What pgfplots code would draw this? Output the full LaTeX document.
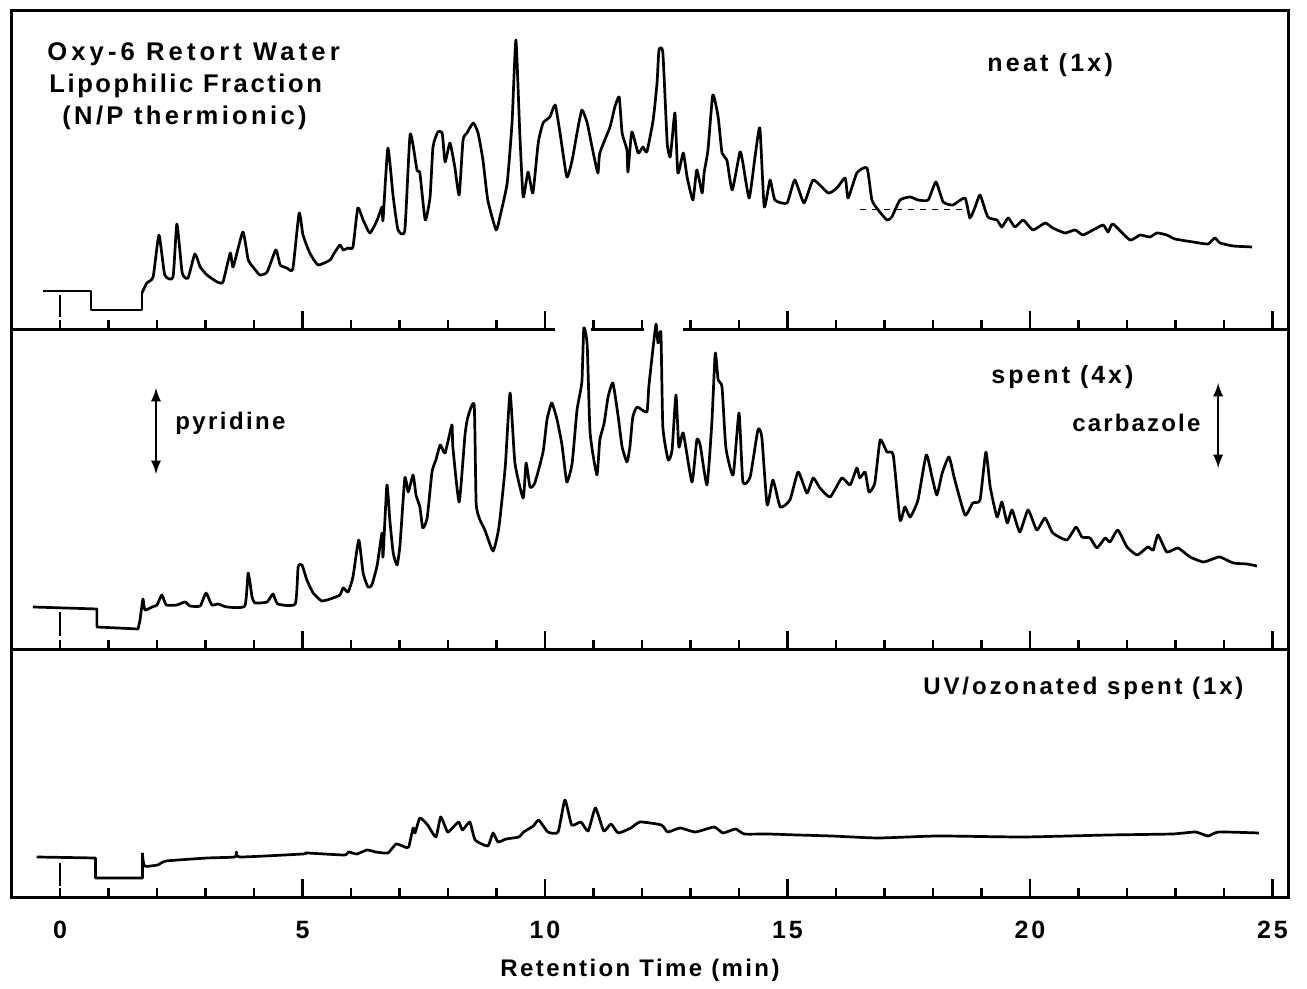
\documentclass[border=0pt]{standalone}
\usepackage{pgfplots}
\pgfplotsset{compat=1.18}
\usepackage{fontspec}
\setmainfont{Liberation Sans}[LetterSpace=11]
\begin{document}
\begin{tikzpicture}
\path[use as bounding box] (0,0) rectangle (653.5pt,494.5pt);
\pgfplotsset{
  panel/.style={
    scale only axis, width=638pt, xmin=-0.99, xmax=25.32, ymin=0,
    anchor=south west,
    axis line style={-, line width=1.5pt},
    xtick={5,10,15,20,25}, minor xtick={0,...,24},
    ytick=\empty, xtick pos=bottom, tick align=inside,
    major tick length=9.5pt, minor tick length=5pt,
    every tick/.append style={black, line width=1.2pt},
    xticklabels={},
  },
  trace/.style={black, line width=1.35pt, line join=round, no marks},
  strace/.style={black, line width=1.35pt, line join=round, no marks, smooth, tension=0.3},
}
% ---------------- panel 1: neat (1x)
\begin{axis}[panel, at={(6pt,329.5pt)}, height=159.5pt, ymax=319]
\addplot[trace] table {
-0.35 39
0.64 39
0.64 20
1.69 20
1.69 37
};
\addplot[strace] table {
1.69 37
1.79 47
1.92 53
2.04 95
2.16 55
2.33 53
2.41 106
2.52 57
2.64 52
2.78 76
2.89 63
3.03 55
3.24 48
3.36 48
3.51 77
3.57 63
3.77 98
3.88 70
3.98 63
4.12 55
4.27 58
4.45 80
4.54 65
4.68 62
4.80 61
4.93 117
5.01 95
5.15 77
5.32 65
5.57 70
5.63 75
5.77 85
5.84 80
5.94 82
6.04 83
6.14 122
6.25 110
6.39 97
6.54 110
6.64 123
6.66 110
6.76 182
6.87 133
6.97 100
7.11 100
7.22 196
7.36 160
7.42 157
7.53 110
7.63 133
7.69 183
7.79 198
7.88 197
7.94 168
8.04 187
8.14 163
8.23 135
8.31 190
8.39 197
8.52 207
8.62 197
8.72 170
8.82 130
8.99 100
9.07 113
9.22 147
9.32 207
9.40 290
9.48 197
9.55 133
9.65 158
9.75 137
9.86 187
9.96 207
10.10 213
10.21 225
10.31 197
10.45 153
10.56 170
10.66 197
10.76 220
10.87 207
10.97 183
11.09 157
11.13 177
11.34 203
11.44 223
11.53 233
11.59 197
11.69 180
11.71 158
11.79 198
11.92 177
12.02 183
12.10 178
12.23 210
12.31 247
12.35 280
12.43 277
12.52 187
12.58 173
12.62 190
12.68 217
12.74 157
12.85 177
12.93 153
13.05 130
13.13 160
13.24 137
13.28 157
13.36 180
13.46 235
13.57 213
13.65 177
13.75 170
13.86 140
14.02 178
14.08 167
14.21 132
14.33 173
14.43 202
14.52 123
14.64 150
14.74 130
14.99 127
15.15 150
15.34 127
15.53 150
15.84 137
16.02 142
16.19 152
16.25 132
16.43 157
16.64 162
16.74 130
16.87 120
17.05 110
17.15 113
17.32 130
17.53 133
17.69 130
17.90 130
18.06 148
18.21 128
18.41 125
18.66 132
18.76 112
18.87 123
18.97 135
19.13 113
19.32 110
19.42 103
19.55 112
19.69 103
19.86 110
20.06 100
20.31 107
20.47 102
20.72 97
20.93 100
21.09 95
21.30 100
21.51 105
21.61 98
21.71 106
22.06 90
22.27 95
22.47 93
22.62 97
22.82 95
22.99 91
23.36 88
23.67 86
23.81 92
23.92 87
24.19 84
24.58 83
};
\addplot[black, line width=0.5pt, dashed] coordinates {(16.49,120) (18.62,120)};
\addplot[black, line width=1pt] coordinates {(0,13) (0,35)};
\end{axis}
% gaps in the separator line
\fill[white] (277.5pt,327.4pt) rectangle (295.7pt,331.6pt);
\fill[white] (322.2pt,327.4pt) rectangle (341.5pt,331.6pt);
% ---------------- panel 2: spent (4x)
\begin{axis}[panel, at={(6pt,169.5pt)}, height=160pt, ymax=320, clip=false,
  axis x line*=bottom, axis y line*=box]
\addplot[trace] table {
-0.56 43
0.76 41
0.76 23
1.61 21
1.65 30
};
\addplot[strace] table {
1.65 30
1.71 51
1.75 40
1.90 43
2.00 45
2.10 55
2.19 45
2.41 45
2.58 48
2.68 44
2.89 44
3.01 57
3.13 45
3.26 46
3.44 43
3.81 44
3.88 77
3.96 53
4.02 47
4.27 48
4.39 56
4.49 46
4.85 46
4.91 83
4.99 85
5.09 70
5.22 57
5.40 49
5.63 52
5.77 55
5.84 62
5.94 58
6.04 73
6.16 110
6.25 77
6.35 63
6.43 65
6.54 85
6.64 117
6.66 93
6.74 165
6.80 130
6.87 97
6.95 85
7.01 105
7.11 172
7.18 158
7.28 175
7.34 155
7.42 143
7.48 122
7.57 132
7.67 178
7.75 190
7.84 205
7.94 197
8.08 225
8.10 203
8.23 148
8.35 215
8.41 233
8.54 245
8.58 147
8.66 130
8.76 120
8.93 99
9.05 123
9.18 183
9.28 257
9.38 187
9.55 152
9.61 187
9.69 163
9.79 167
9.96 198
10.04 230
10.14 247
10.25 230
10.35 205
10.45 168
10.56 187
10.66 240
10.76 268
10.80 322
10.87 305
10.93 217
11.07 175
11.13 210
11.22 227
11.30 253
11.40 267
11.51 233
11.59 203
11.69 188
11.75 203
11.81 233
11.90 243
12.10 238
12.14 263
12.23 303
12.29 326
12.33 307
12.39 317
12.43 223
12.54 190
12.62 200
12.70 255
12.76 203
12.85 217
13.03 168
13.13 210
13.20 205
13.34 165
13.44 227
13.51 297
13.57 270
13.65 263
13.73 202
13.88 175
14.00 237
14.08 168
14.23 173
14.39 220
14.47 213
14.58 145
14.70 170
14.85 143
15.05 150
15.22 178
15.40 157
15.53 172
15.67 162
15.88 153
16.12 172
16.29 165
16.43 182
16.49 172
16.60 178
16.68 158
16.80 167
16.91 210
17.05 198
17.18 195
17.32 130
17.42 143
17.53 133
17.69 150
17.86 195
17.98 173
18.08 155
18.19 177
18.33 193
18.45 170
18.66 135
18.82 147
18.97 150
19.09 198
19.18 163
19.32 133
19.42 148
19.53 127
19.63 140
19.79 118
19.96 140
20.14 120
20.31 132
20.47 117
20.76 110
20.95 123
21.07 113
21.24 112
21.38 102
21.55 112
21.65 108
21.81 120
22.00 103
22.21 95
22.43 103
22.54 100
22.64 115
22.82 98
23.05 102
23.30 93
23.57 88
23.77 91
23.92 93
24.19 87
24.47 86
24.68 84
};
\addplot[black, line width=1pt] coordinates {(0,14) (0,38)};
\draw[<->, >=latex, line width=1.3pt] (axis cs:1.98,176) -- (axis cs:1.98,262);
\draw[<->, >=latex, line width=1.3pt] (axis cs:23.88,182) -- (axis cs:23.88,267);
\end{axis}
% ---------------- panel 3: UV/ozonated spent (1x)
\begin{axis}[panel, at={(6pt,45.5pt)}, height=124pt, ymax=248,
  xticklabels={5,10,15,20,25},
  extra x ticks={0}, extra x tick labels={0},
  extra x tick style={major tick length=0pt},
  /pgf/number format/assume math mode=true,
  xticklabel style={font=\bfseries\fontsize{12.5}{14}\selectfont, yshift=-8pt}]
\addplot[trace] table {
-0.48 41
0.73 40
0.73 20
1.70 20
1.70 45
};
\addplot[strace] table {
1.70 45
1.74 32
2.01 33
2.19 37
3.04 40
3.60 41
3.64 46
3.71 41
5.01 44
5.09 45
5.86 43
5.95 46
6.12 44
6.33 48
6.51 46
6.76 45
6.93 54
7.11 51
7.19 51
7.28 70
7.32 65
7.42 80
7.58 73
7.75 61
7.85 81
7.99 66
8.09 70
8.22 76
8.30 68
8.45 76
8.56 58
8.82 52
8.93 65
9.03 56
9.20 59
9.46 61
9.56 66
9.76 72
9.87 78
10.06 66
10.27 66
10.41 98
10.55 73
10.74 76
10.89 67
11.04 90
11.21 67
11.36 74
11.51 65
11.77 70
11.96 76
12.40 73
12.53 66
12.79 70
13.10 66
13.49 71
13.67 65
13.93 69
14.11 64
14.59 64
15.20 63
15.91 62
16.87 60
18.10 62
19.86 61
21.61 63
22.93 64
23.41 66
23.67 62
23.89 66
24.72 65
};
\addplot[black, line width=1pt] coordinates {(0,12) (0,35)};
\end{axis}
% ---------------- texts
\begin{scope}[every node/.style={inner sep=0pt, font=\bfseries\fontsize{12}{14}\selectfont}]
\node[anchor=west, font=\bfseries\fontsize{12.8}{15}\selectfont\addfontfeature{LetterSpace=16}] at (23.5pt,467.5pt) {Oxy-6 Retort Water};
\node[anchor=west, font=\bfseries\fontsize{12.8}{15}\selectfont\addfontfeature{LetterSpace=10}] at (24.5pt,451.5pt) {Lipophilic Fraction};
\node[anchor=west, font=\bfseries\fontsize{12.8}{15}\selectfont\addfontfeature{LetterSpace=13}] at (31pt,435.5pt) {(N/P thermionic)};
\node[anchor=west, font=\bfseries\fontsize{12.5}{14}\selectfont\addfontfeature{LetterSpace=13}] at (493.5pt,462pt) {neat (1x)};
\node[anchor=west, font=\bfseries\fontsize{12.5}{14}\selectfont\addfontfeature{LetterSpace=12}] at (495.5pt,306pt) {spent (4x)};
\node[anchor=west, font=\bfseries\fontsize{12}{14}\selectfont\addfontfeature{LetterSpace=10}] at (87.5pt,283pt) {pyridine};
\node[anchor=west, font=\bfseries\fontsize{12}{14}\selectfont\addfontfeature{LetterSpace=9}] at (536pt,283pt) {carbazole};
\node[anchor=west, font=\bfseries\fontsize{12}{14}\selectfont\addfontfeature{LetterSpace=12}] at (461.5pt,150.5pt) {UV/ozonated spent (1x)};
\node[font=\bfseries\fontsize{12}{14}\selectfont\addfontfeature{LetterSpace=10}] at (320pt,9.5pt) {Retention Time (min)};
\end{scope}
\end{tikzpicture}
\end{document}
